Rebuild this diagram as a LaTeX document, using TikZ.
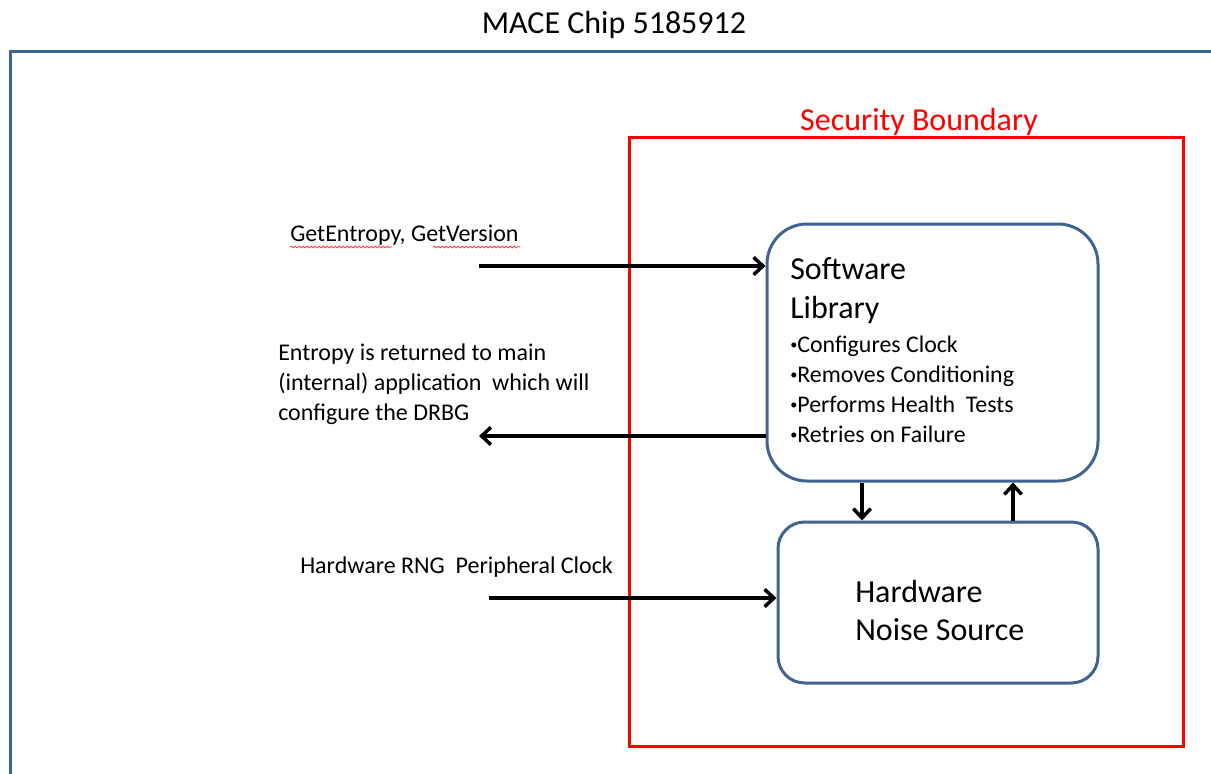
\documentclass[tikz,border=0pt]{standalone}
\usepackage{fontspec}
\setmainfont{Carlito}
\usetikzlibrary{arrows.meta,decorations.pathmorphing}
\definecolor{chipblue}{HTML}{41638F}
\definecolor{bndred}{HTML}{FF0000}
\newcommand\bul{\raisebox{0.2ex}{\scalebox{0.6}{•}}}
\tikzset{
	blockbox/.style={draw=chipblue,line width=2.25pt,fill=white,inner sep=0pt},
	flow/.style={line width=2.6pt,-{Straight Barb[length=7pt,width=13pt]}},
	label/.style={inner sep=0pt,anchor=west,align=left},
	spell/.style={draw=red!75,line width=0.6pt,decorate,decoration={snake,amplitude=0.7pt,segment length=3pt}},
}
\begin{document}
\begin{tikzpicture}[x=0.75pt,y=-0.75pt]
		\useasboundingbox (0,0) rectangle (1211,774);
		\draw[chipblue,line width=2.25pt] (1213,52)--(10,52)--(10,776);
		\node[font=\fontsize{24}{28}\selectfont] (title) at (614,25) {MACE Chip 5185912};
		\draw[bndred,line width=2.25pt] (629,138) rectangle (1183,746);
		\node[text=bndred,font=\fontsize{24}{28}\selectfont] (bnd) at (919,122) {Security Boundary};
		\node[blockbox,rounded corners=30pt,minimum width=248.25pt,minimum height=192.75pt] (swlib) at (932.5,352.5) {};
		\node[blockbox,rounded corners=20pt,minimum width=240pt,minimum height=120.75pt] (hwnoise) at (938,602.5) {};
		\node[label,font=\fontsize{24}{29.25}\selectfont] (swname) at (790,290.5) {Software\\Library};
		\node[label,font=\fontsize{17.9}{22.5}\selectfont] (swtasks) at (790,389) {\bul Configures Clock\\\bul Removes Conditioning\\\bul Performs Health\ \ Tests\\\bul Retries on Failure};
		\node[label,font=\fontsize{24}{28.5}\selectfont] (hwname) at (855,611) {Hardware\\Noise Source};
		\node[label,font=\fontsize{18}{22.5}\selectfont] (calls) at (290,235) {GetEntropy, GetVersion};
		\draw[spell] (290,247)--(392,247);
		\draw[spell] (433,247)--(520,247);
		\node[label,font=\fontsize{18}{22.5}\selectfont] (ret) at (278,384.5) {Entropy is returned to main\\(internal) application\ \ which will\\configure the DRBG};
		\node[label,font=\fontsize{18}{22.5}\selectfont] (clk) at (300,567) {Hardware RNG\ \ Peripheral Clock};
		\coordinate (inA) at (479,266);
		\coordinate (outA) at (479,436);
		\coordinate (inB) at (489,598);
		\coordinate (dn) at (862,0);
		\coordinate (up) at (1013,0);
		\draw[flow] (inA)--(inA-|swlib.west);
		\draw[flow] (outA-|swlib.west)--(outA);
		\draw[flow] (inB)--(inB-|hwnoise.west);
		\draw[flow] (swlib.south-|dn)--(hwnoise.north-|dn);
		\draw[flow] (hwnoise.north-|up)--(swlib.south-|up);
	\end{tikzpicture}
\end{document}
